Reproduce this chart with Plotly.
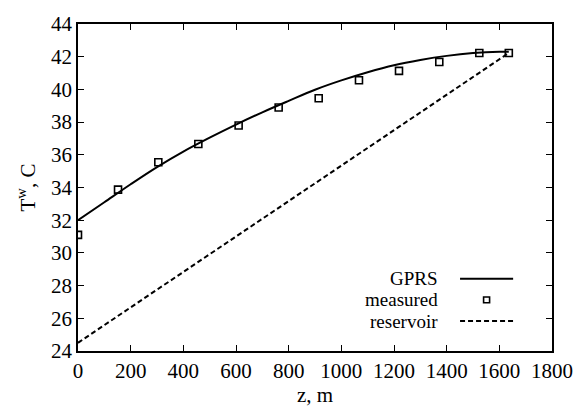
import plotly.graph_objects as go

# GPRS simulated profile
gprs_z = [0, 100, 200, 300, 400, 500, 600, 700, 800, 900, 1000, 1100, 1200, 1300, 1400, 1500, 1600, 1636]
gprs_T = [32.0, 33.1, 34.2, 35.25, 36.2, 37.05, 37.85, 38.6, 39.3, 39.98, 40.55, 41.05, 41.48, 41.8, 42.05, 42.22, 42.3, 42.3]

# measured data
meas_z = [0, 152, 305, 457, 610, 762, 914, 1067, 1219, 1372, 1524, 1636]
meas_T = [31.1, 33.87, 35.54, 36.66, 37.79, 38.89, 39.46, 40.56, 41.13, 41.68, 42.23, 42.23]

# reservoir (geothermal) line
res_z = [0, 1636]
res_T = [24.5, 42.23]

x_ticks = list(range(0, 1801, 200))
y_ticks = list(range(24, 45, 2))

FONT = "Liberation Serif"
FS = 21
LFS = 19

fig = go.Figure()
fig.add_trace(go.Scatter(x=gprs_z, y=gprs_T, mode="lines", line=dict(color="black", width=2),
                         line_shape="spline", name="GPRS", showlegend=False))
fig.add_trace(go.Scatter(x=meas_z, y=meas_T, mode="markers",
                         marker=dict(symbol="square-open", size=7, color="black", line=dict(width=1.6)),
                         name="measured", showlegend=False))
fig.add_trace(go.Scatter(x=res_z, y=res_T, mode="lines",
                         line=dict(color="black", width=2, dash="5px,3px"),
                         name="reservoir", showlegend=False))

# manual gnuplot-like legend (text right, sample on the right)
leg_y = [0.2212, 0.1563, 0.0914]
leg_names = ["GPRS", "measured", "reservoir"]
for yy, nm in zip(leg_y, leg_names):
    fig.add_annotation(x=0.764, y=yy, xref="paper", yref="paper", text=nm, showarrow=False,
                       xanchor="right", yanchor="middle",
                       font=dict(family=FONT, size=LFS, color="black"))
fig.add_shape(type="line", xref="paper", yref="paper", x0=0.806, x1=0.918, y0=leg_y[0], y1=leg_y[0],
              line=dict(color="black", width=2))
fig.add_shape(type="line", xref="paper", yref="paper", x0=0.806, x1=0.918, y0=leg_y[2], y1=leg_y[2],
              line=dict(color="black", width=2, dash="5px,3px"))
fig.add_shape(type="rect", xref="paper", yref="paper", x0=0.862 - 3/474, x1=0.862 + 3/474,
              y0=leg_y[1] - 3/339, y1=leg_y[1] + 3/339, line=dict(color="black", width=1.6))

axis_common = dict(showgrid=False, zeroline=False, showline=True, linecolor="black", linewidth=1.5,
                   mirror="allticks", ticks="inside", ticklen=6, tickwidth=1.2, tickcolor="black",
                   tickfont=dict(family=FONT, size=FS, color="black"))

fig.update_layout(
    width=587, height=410,
    margin=dict(l=78, r=35, t=14, b=57),
    paper_bgcolor="white", plot_bgcolor="white",
    font=dict(family=FONT, size=FS, color="black"),
    xaxis=dict(range=[0, 1800], tickvals=x_ticks, ticktext=[str(v) for v in x_ticks],
               title=dict(text="z, m", font=dict(family=FONT, size=FS, color="black"), standoff=0),
               **axis_common),
    yaxis=dict(range=[24, 44], tickvals=y_ticks, ticktext=[str(v) for v in y_ticks],
               title=dict(text="T<sup>w</sup>, C", font=dict(family=FONT, size=FS, color="black"), standoff=10),
               **axis_common),
)

fig.write_html("out.html")
